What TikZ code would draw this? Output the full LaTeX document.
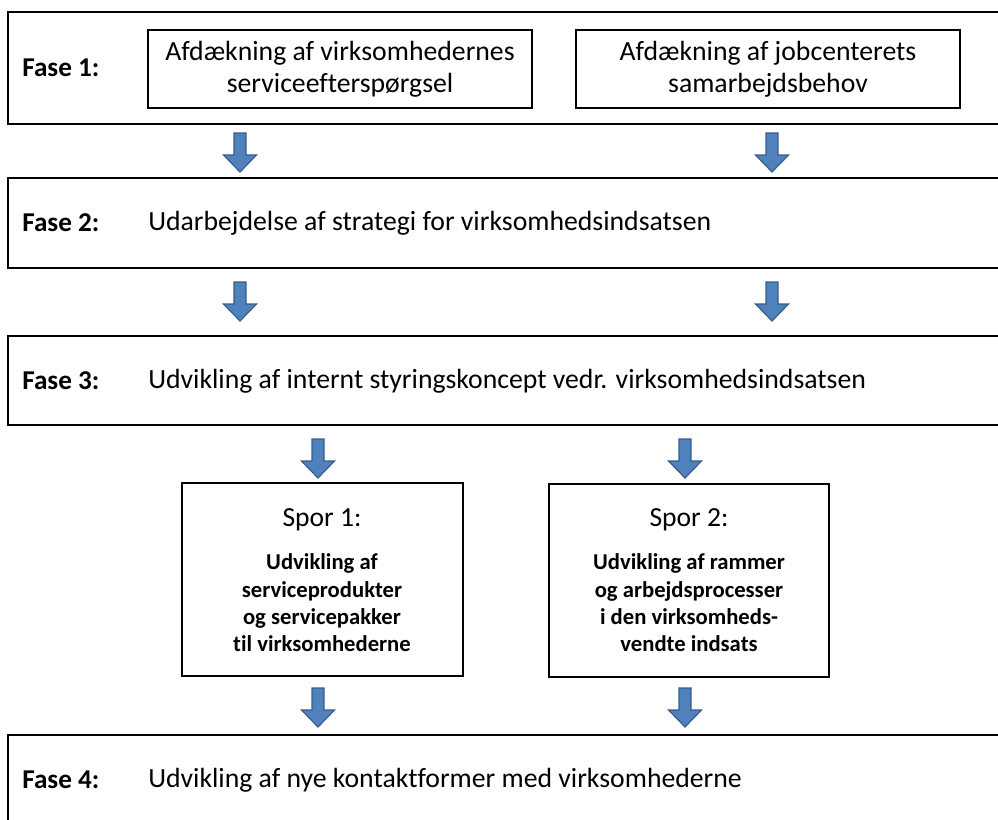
\documentclass[tikz,border=0pt]{standalone}
\usepackage{fontspec}
\setmainfont{Carlito}[Ligatures=NoCommon]
\usetikzlibrary{fit}
\definecolor{arrowblue}{HTML}{4F81BD}
\definecolor{arrowedge}{HTML}{385D8A}
\tikzset{
  frame/.style={draw=black, line width=1.1pt, inner sep=0pt},
  innerbox/.style={draw=black, line width=0.9pt, inner sep=0pt},
  faselabel/.style={anchor=west, inner sep=0pt, font=\fontsize{20.4}{24}\selectfont\bfseries},
  fasetext/.style={anchor=west, inner sep=0pt, font=\fontsize{20.8}{24}\selectfont},
  boxtext/.style={align=center, inner sep=0pt, font=\fontsize{20.8}{24}\selectfont},
  sportitle/.style={inner sep=0pt, font=\fontsize{20.7}{24}\selectfont},
  sporbody/.style={align=center, inner sep=0pt, font=\fontsize{17}{20.5}\selectfont\bfseries},
  barrow/.pic={\path[fill=arrowblue, draw=arrowedge, line width=0.9pt, line join=miter]
     (-6,0) -- (6,0) -- (6,22) -- (16.5,22) -- (0,39) -- (-16.5,22) -- (-6,22) -- cycle;}
}
\begin{document}
\begin{tikzpicture}[x=0.75pt, y=-0.75pt]
\useasboundingbox (0,0) rectangle (998,819);
\clip (0,0) rectangle (998,819);
% phase frames
\node[frame, fit={(8,12) (1010,124)}] (f1) {};
\node[frame, fit={(8,178) (1010,268)}] (f2) {};
\node[frame, fit={(8,336) (1010,425)}] (f3) {};
\node[frame, fit={(8,735) (1010,850)}] (f4) {};
% phase 1 inner boxes
\node[innerbox, fit={(148,30) (532,108)}] (b1) {};
\node[innerbox, fit={(576,30) (960,108)}] (b2) {};
\node[boxtext] (t1) at (b1.center) {Afdækning af virksomhedernes\\serviceefterspørgsel};
\node[boxtext] (t2) at (b2.center) {Afdækning af jobcenterets\\samarbejdsbehov};
% labels
\node[faselabel] (l1) at (22,68) {Fase 1:};
\node[faselabel] (l2) at (22,223) {Fase 2:};
\node[fasetext] (p2) at (148,223) {Udarbejdelse af strategi for virksomhedsindsatsen};
\node[faselabel] (l3) at (22,381) {Fase 3:};
\node[fasetext] (p3) at (148,381) {Udvikling af internt styringskoncept vedr. virksomhedsindsatsen};
\node[faselabel] (l4) at (22,780) {Fase 4:};
\node[fasetext] (p4) at (148,780) {Udvikling af nye kontaktformer med virksomhederne};
% spor boxes
\node[innerbox, line width=1.1pt, fit={(182,483) (463,676)}] (s1) {};
\node[innerbox, line width=1.1pt, fit={(549,484) (829,677)}] (s2) {};
\node[sportitle] (s1t) at (322,520) {Spor 1:};
\node[sportitle] (s2t) at (689,520) {Spor 2:};
\node[sporbody] (s1b) at (322,603) {Udvikling af\\serviceprodukter\\og servicepakker\\til virksomhederne};
\node[sporbody] (s2b) at (689,603) {Udvikling af rammer\\og arbejdsprocesser\\i den virksomheds-\\vendte indsats};
% block arrows
\pic at (240,133) {barrow};
\pic at (772,133) {barrow};
\pic at (240,282) {barrow};
\pic at (772,282) {barrow};
\pic at (318,439) {barrow};
\pic at (685,439) {barrow};
\pic at (318,688) {barrow};
\pic at (685,688) {barrow};
\end{tikzpicture}
\end{document}
